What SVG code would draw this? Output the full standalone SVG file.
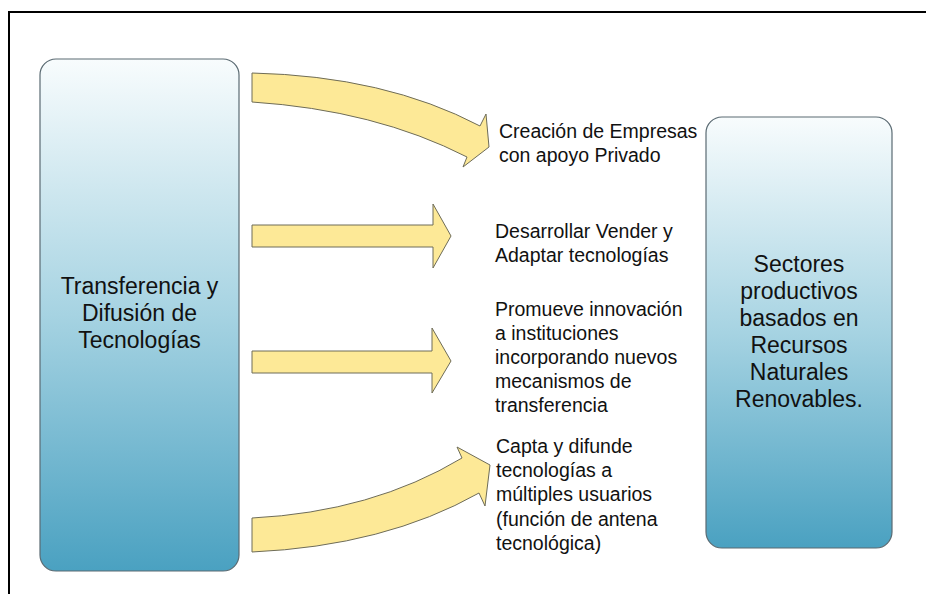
<svg xmlns="http://www.w3.org/2000/svg" width="926" height="594" viewBox="0 0 926 594">
<defs>
<linearGradient id="blue" x1="0" y1="0" x2="0" y2="1">
<stop offset="0" stop-color="#f8fcfd"/>
<stop offset="0.5" stop-color="#a6d3e2"/>
<stop offset="1" stop-color="#4aa1c1"/>
</linearGradient>
<style>
.box{fill:url(#blue);stroke:#5a6a72;stroke-width:1.2}
.arrow{fill:#fde997;stroke:#6e6c58;stroke-width:1}
.big{font-family:"Liberation Sans",Arial,sans-serif;font-size:23px;fill:#111;text-anchor:middle}
.lbl{font-family:"Liberation Sans",Arial,sans-serif;font-size:19.5px;fill:#111}
</style>
</defs>
<rect width="926" height="594" fill="#fff"/>
<path d="M9,594 L9,12 L926,12" fill="none" stroke="#000" stroke-width="2"/>
<g id="node-transferencia">
<rect class="box" x="40" y="59" width="199" height="512" rx="16"/>
<text class="big" x="139.5" y="294">Transferencia y</text>
<text class="big" x="139.5" y="321">Difusión de</text>
<text class="big" x="139.5" y="348">Tecnologías</text>
</g>
<g id="node-sectores">
<rect class="box" x="706" y="117" width="186" height="431" rx="16"/>
<text class="big" x="799" y="272">Sectores</text>
<text class="big" x="799" y="299">productivos</text>
<text class="big" x="799" y="326">basados en</text>
<text class="big" x="799" y="353">Recursos</text>
<text class="big" x="799" y="380">Naturales</text>
<text class="big" x="799" y="407">Renovables.</text>
</g>
<g id="connectors">
<path class="arrow" d="M252,73 Q385,76 480,126 L486,114 L489,147 L463,167 L467,157 Q375,110 252,102 Z"/>
<path class="arrow" d="M252,225 L433,225 L433,204 L451,236 L433,268 L433,247 L252,247 Z"/>
<path class="arrow" d="M252,351 L432,351 L432,328 L451,361 L432,393 L432,373 L252,373 Z"/>
<path class="arrow" d="M252,552 Q385,546 479,493 L485,506 L490,465 L457,447 L462,458 Q372,512 252,518 Z"/>
</g>
<g id="label-1">
<text class="lbl" x="499" y="138">Creación de Empresas</text>
<text class="lbl" x="499" y="162">con apoyo Privado</text>
</g>
<g id="label-2">
<text class="lbl" x="495" y="238">Desarrollar Vender y</text>
<text class="lbl" x="495" y="262">Adaptar tecnologías</text>
</g>
<g id="label-3">
<text class="lbl" x="495" y="316">Promueve innovación</text>
<text class="lbl" x="495" y="340">a instituciones</text>
<text class="lbl" x="495" y="364">incorporando nuevos</text>
<text class="lbl" x="495" y="388">mecanismos de</text>
<text class="lbl" x="495" y="412">transferencia</text>
</g>
<g id="label-4">
<text class="lbl" x="496" y="453">Capta y difunde</text>
<text class="lbl" x="496" y="477">tecnologías a</text>
<text class="lbl" x="496" y="501">múltiples usuarios</text>
<text class="lbl" x="496" y="526">(función de antena</text>
<text class="lbl" x="496" y="550">tecnológica)</text>
</g>
</svg>
